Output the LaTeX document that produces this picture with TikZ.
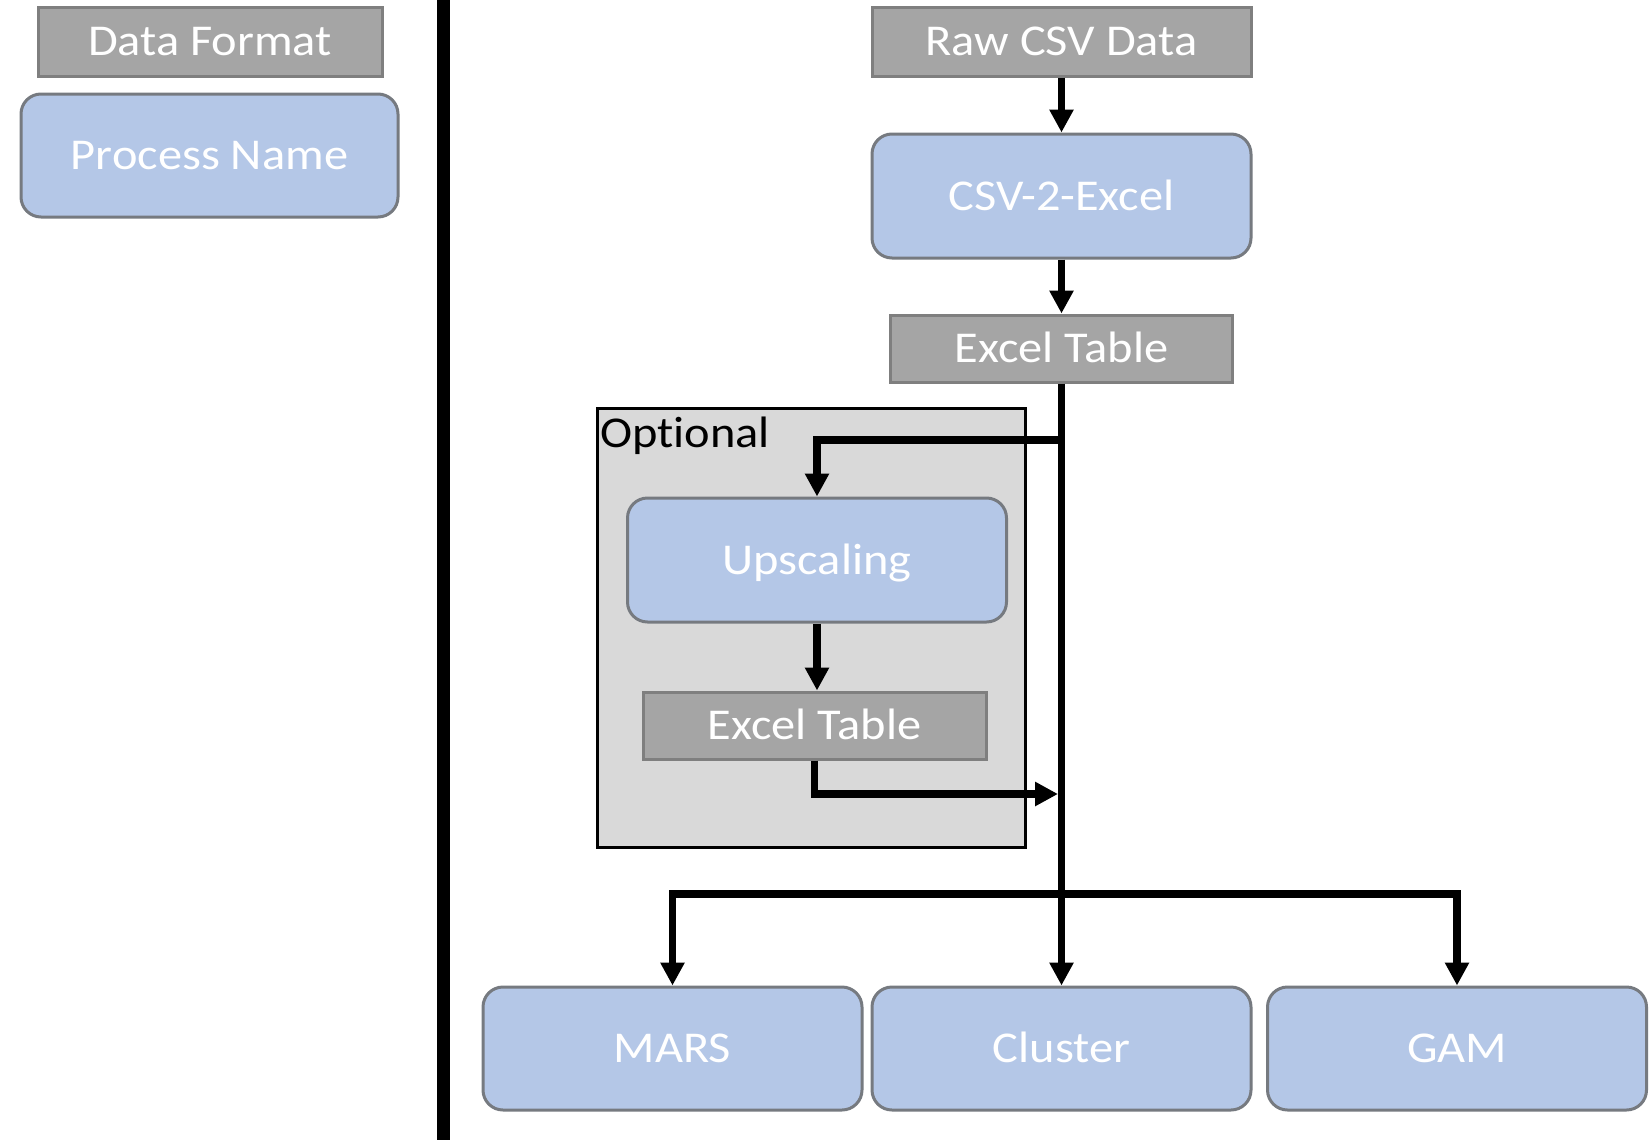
\documentclass[tikz,border=0pt]{standalone}
\usepackage{fontspec}
\setmainfont[FakeStretch=1.1,Ligatures=NoCommon]{Carlito}
\usetikzlibrary{arrows.meta}
\definecolor{fmtfill}{HTML}{A5A5A5}
\definecolor{fmtline}{HTML}{7F7F7F}
\definecolor{procfill}{HTML}{B4C7E7}
\definecolor{procline}{HTML}{767A80}
\definecolor{optfill}{HTML}{D9D9D9}
\begin{document}
\begin{tikzpicture}[x=1pt,y=-1pt,
  base/.style={inner sep=0pt, text=white, font=\fontsize{44}{52}\selectfont, text height=28pt, text depth=0pt, line width=3pt},
  fmt/.style={base, rectangle, fill=fmtfill, draw=fmtline},
  proc/.style={base, rectangle, rounded corners=20pt, fill=procfill, draw=procline},
  arr/.style={line width=7.5pt, -{Triangle[width=23pt,length=23pt]}}]
\useasboundingbox[fill=white] (0,0) rectangle (1651,1140);
% legend
\node[fmt, minimum width=344pt, minimum height=68pt] (df) at (210,42) {Data Format};
\node[proc, minimum width=377pt, minimum height=123pt] (pn) at (209.5,155.5) {Process Name};
\draw[line width=13pt] (443.5,0) -- (443.5,1140);
% main flow
\node[fmt, minimum width=379pt, minimum height=68pt] (raw) at (1061.5,42) {Raw CSV Data};
\node[proc, minimum width=379pt, minimum height=124pt] (c2e) at (1061.5,196) {CSV-2-Excel};
\node[fmt, minimum width=342pt, minimum height=67pt] (ex1) at (1061.5,348.5) {Excel Table};
\node[draw=black, fill=optfill, line width=3pt, minimum width=428pt, minimum height=439pt, inner sep=0pt] (opt) at (811,627.5) {};
\node[anchor=base west, inner sep=0pt, font=\fontsize{44}{52}\selectfont] (optlab) at (600,447) {Opt\kern0pt ional};
\node[proc, minimum width=379pt, minimum height=124pt] (up) at (817,560) {Upscaling};
\node[fmt, minimum width=343pt, minimum height=67pt] (ex2) at (814.5,725.5) {Excel Table};
\node[proc, minimum width=379pt, minimum height=123pt] (mars) at (672.5,1048.5) {MARS};
\node[proc, minimum width=379pt, minimum height=123pt] (cl) at (1061.5,1048.5) {Cluster};
\node[proc, minimum width=379pt, minimum height=123pt] (gam) at (1457,1048.5) {GAM};
% connectors
\coordinate (j1) at (1061.5,440);
\coordinate (j2) at (1058,794);
\coordinate (j3) at (1061.5,894);
\draw[arr] (raw) -- (c2e);
\draw[arr] (c2e) -- (ex1);
\draw[arr] (ex1) -- (cl);
\draw[arr] (j1) -| (up.north);
\draw[arr] (up.south) -- (up.south |- ex2.north);
\draw[arr] (ex2.south) |- (j2);
\draw[arr] (j3) -| (mars.north);
\draw[arr] (j3) -| (gam.north);
\end{tikzpicture}
\end{document}
